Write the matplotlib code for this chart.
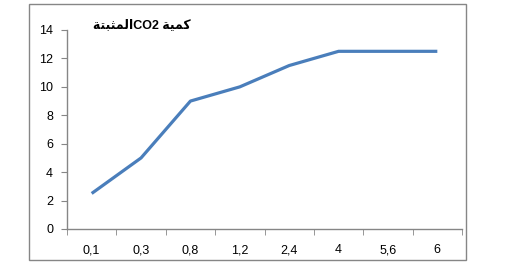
import matplotlib
matplotlib.use("Agg")
import matplotlib.pyplot as plt
from matplotlib.patches import Rectangle

# Data
categories = ["0,1", "0,3", "0,8", "1,2", "2,4", "4", "5,6", "6"]
co2_values = [2.5, 5, 9, 10, 11.5, 12.5, 12.5, 12.5]
title = "كمية CO2المثبتة"

# Arabic shaping (matplotlib has no complex text layout)
# forms: (isolated, final, initial, medial); None = letter does not join forward
FORMS = {
    "ا": ("\uFE8D", "\uFE8E", None, None),
    "ب": ("\uFE8F", "\uFE90", "\uFE91", "\uFE92"),
    "ة": ("\uFE93", "\uFE94", None, None),
    "ت": ("\uFE95", "\uFE96", "\uFE97", "\uFE98"),
    "ث": ("\uFE99", "\uFE9A", "\uFE9B", "\uFE9C"),
    "ك": ("\uFED9", "\uFEDA", "\uFEDB", "\uFEDC"),
    "ل": ("\uFEDD", "\uFEDE", "\uFEDF", "\uFEE0"),
    "م": ("\uFEE1", "\uFEE2", "\uFEE3", "\uFEE4"),
    "ي": ("\uFEF1", "\uFEF2", "\uFEF3", "\uFEF4"),
}


def shape_word(word):
    out = []
    for i, ch in enumerate(word):
        prev_joins = i > 0 and FORMS[word[i - 1]][2] is not None
        next_exists = i < len(word) - 1
        joins_next = next_exists and FORMS[ch][2] is not None
        iso, fin, ini, med = FORMS[ch]
        if prev_joins and joins_next:
            out.append(med)
        elif prev_joins:
            out.append(fin)
        elif joins_next:
            out.append(ini)
        else:
            out.append(iso)
    return "".join(reversed(out))


def visual(text):
    runs, cur, cur_ar = [], "", None
    for ch in text:
        is_ar = ch in FORMS or (ch == " " and cur_ar)
        if cur_ar is None or is_ar == cur_ar:
            cur += ch
        else:
            runs.append((cur, cur_ar))
            cur = ch
        cur_ar = is_ar
    runs.append((cur, cur_ar))
    parts = []
    for s, ar in runs:
        if ar:
            parts.append(" ".join(shape_word(w) if w else w for w in reversed(s.split(" "))))
        else:
            parts.append(s)
    return "".join(reversed(parts))


plt.rcParams["font.family"] = ["Liberation Sans", "DejaVu Sans"]

fig = plt.figure(figsize=(5.09, 2.71), dpi=100)
fig.patches.append(Rectangle((0.057, 0.0406), 0.8585, 0.9446, transform=fig.transFigure,
                             fill=False, edgecolor="#868686", linewidth=1.0))

ax = fig.add_axes([0.1316, 0.155, 0.7761, 0.7343])
x = range(len(categories))
ax.plot(x, co2_values, color="#4A7EBB", linewidth=2.3, solid_capstyle="butt")

ax.set_xlim(-0.5, len(categories) - 0.5)
ax.set_ylim(0, 14)
ax.set_yticks(range(0, 15, 2))
ax.set_xticks(x)
ax.set_xticklabels(categories)
ax.set_xticks([i - 0.5 for i in range(len(categories) + 1)], minor=True)
ax.tick_params(axis="x", which="major", length=0, pad=11, labelsize=9)
ax.tick_params(axis="x", which="minor", length=4, color="#868686", direction="out")
ax.tick_params(axis="y", length=4, color="#868686", pad=6, labelsize=9)

for side in ["top", "right"]:
    ax.spines[side].set_visible(False)
for side in ["left", "bottom"]:
    ax.spines[side].set_color("#868686")
    ax.spines[side].set_linewidth(1.0)

fig.text(0.183, 0.908, visual(title), fontsize=9, fontweight="bold",
         family=["Liberation Sans", "DejaVu Sans"], ha="left", va="center")

fig.savefig("out.png", dpi=100)
